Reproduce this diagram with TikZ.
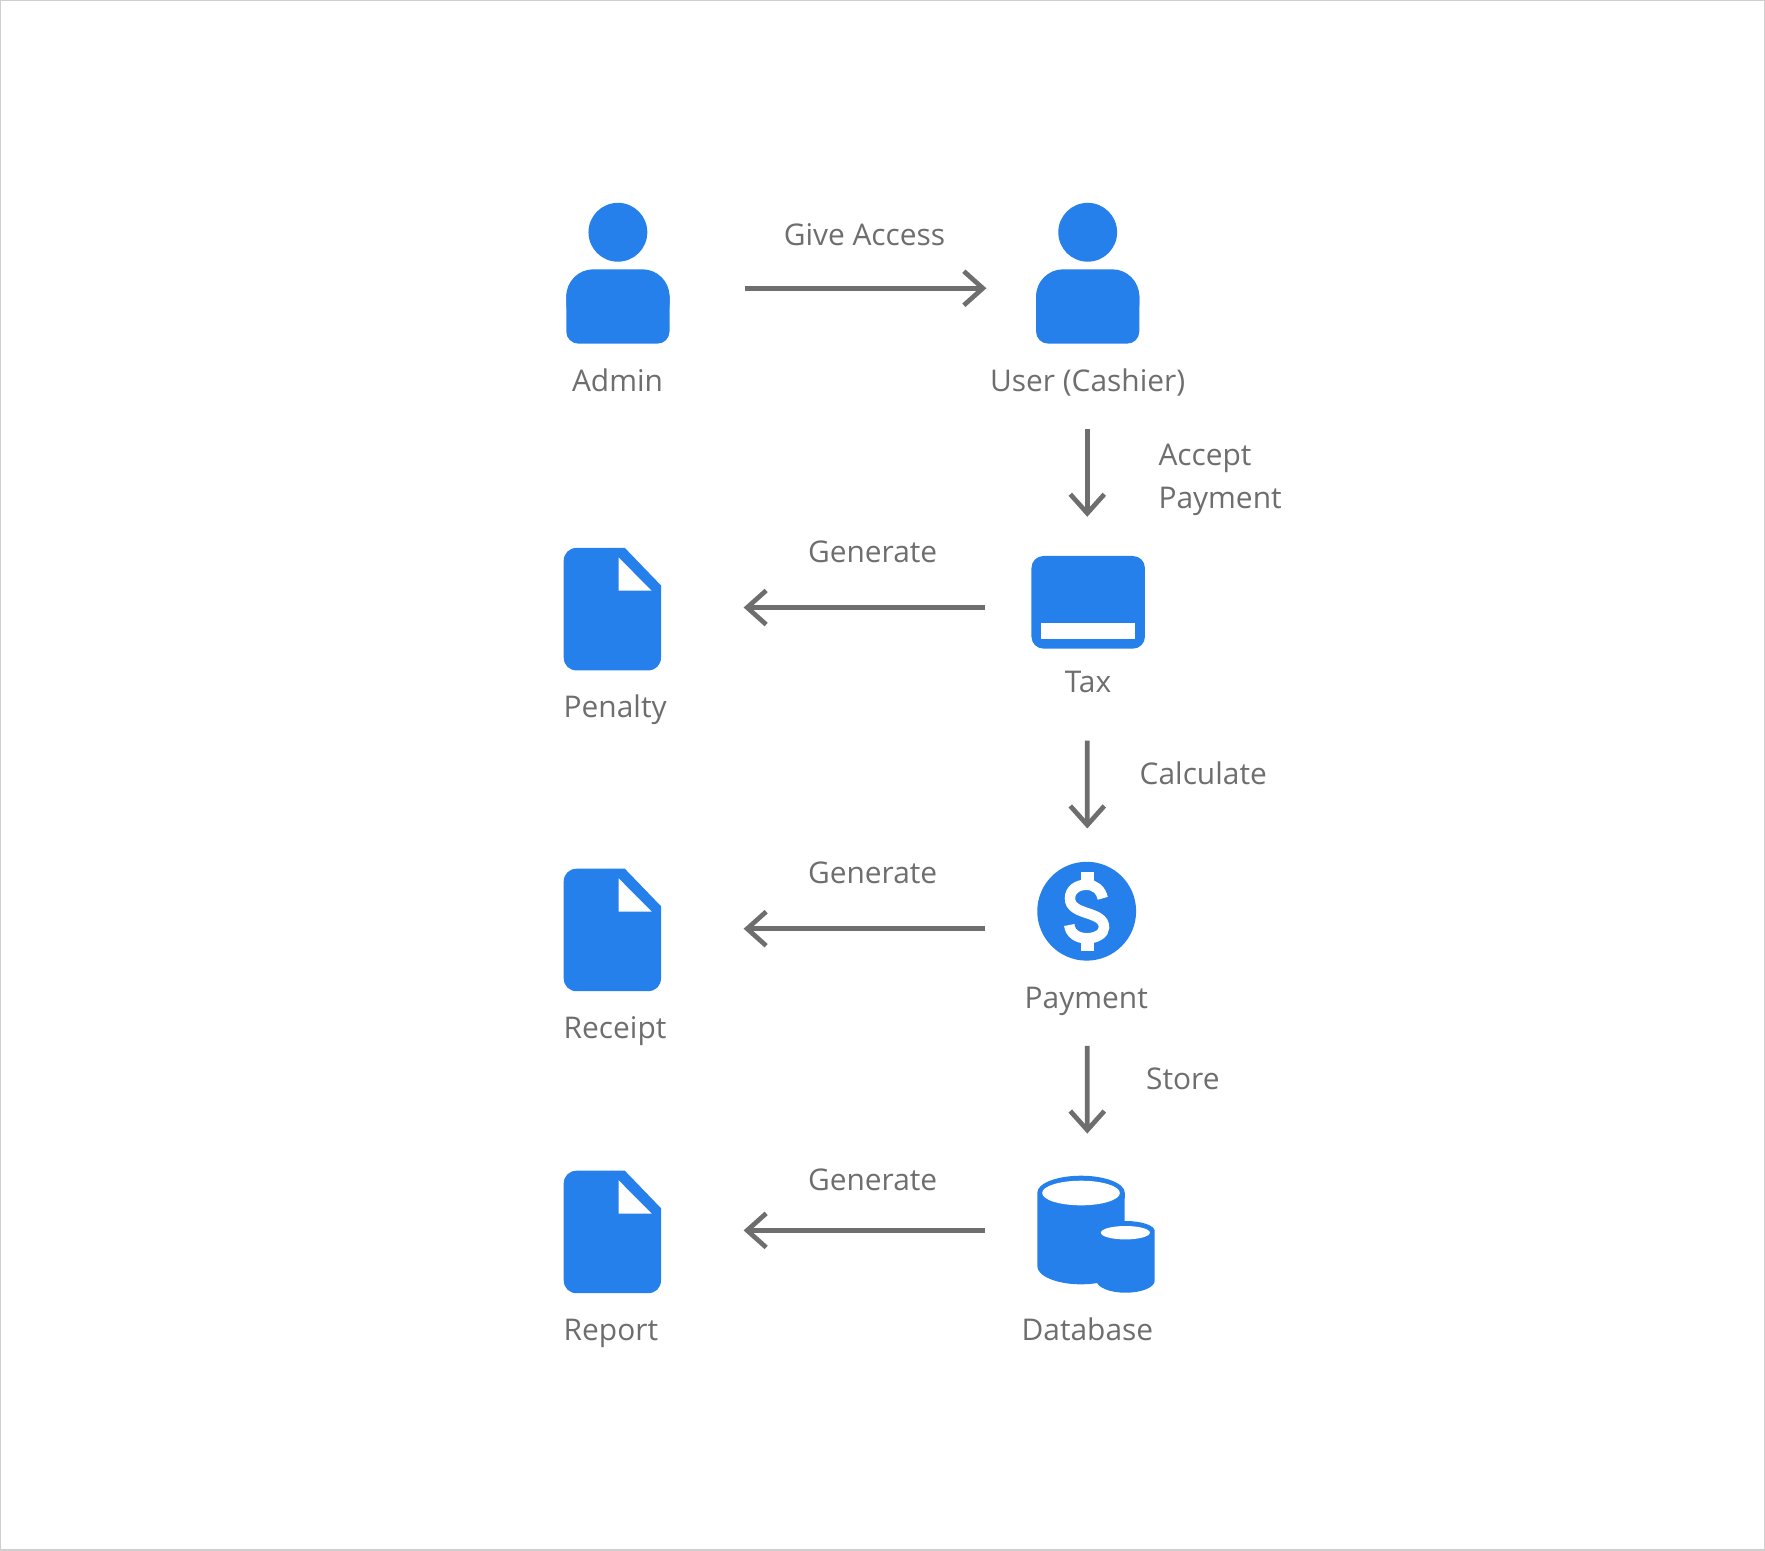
\documentclass[tikz,border=0pt]{standalone}
\usepackage{fontspec}
\setmainfont{Open Sans}
\usepackage{xcolor}
\definecolor{IconBlue}{HTML}{2680EB}
\definecolor{FlowGray}{HTML}{6E6E6E}
\definecolor{FrameGray}{HTML}{CFCFCF}
\usetikzlibrary{arrows.meta}
\tikzset{
  iconbox/.style={inner sep=0pt, outer sep=0pt},
  caption/.style={text=FlowGray, inner sep=0pt, font=\fontsize{8.5}{12.2}\selectfont, anchor=base},
  flow/.style={draw=FlowGray, line width=0.047cm, -{Straight Barb[length=0.19cm,width=0.34cm]}},
  person/.pic={
    \fill[IconBlue] (0,-41) circle (0.294cm);
    \fill[IconBlue, rounded corners=0.27cm] (-51.6,-3.95) rectangle (51.6,58);
    \fill[IconBlue, rounded corners=0.12cm] (-51.6,10) rectangle (51.6,70.35);
  },
  docpage/.pic={
    \fill[IconBlue] (12.45,-61.25) -- (48.65,-23.75) -- (48.65,48.25)
      .. controls (48.65,56) and (43,61.25) .. (35.65,61.25) -- (-35.65,61.25)
      .. controls (-43,61.25) and (-48.65,56) .. (-48.65,48.25) -- (-48.65,-48.25)
      .. controls (-48.65,-56) and (-43,-61.25) .. (-35.65,-61.25) -- cycle;
    \fill[white] (6.25,-51.65) -- (6.25,-18.45) -- (39.25,-18.45) -- cycle;
  }
}

\begin{document}
\begin{tikzpicture}[x=0.01cm, y=-0.01cm]
  \useasboundingbox (0,0) rectangle (1765,1550);
  \draw[FrameGray, line width=0.02cm, fill=white] (0,0) rectangle (1765,1550);
  % icons
  \node[iconbox, minimum width=1.032cm, minimum height=1.407cm] (admin) at (617.9,273.25) {};
  \node[iconbox, minimum width=1.032cm, minimum height=1.407cm] (user) at (1087.7,273.25) {};
  \pic at (admin.center) {person};
  \pic at (user.center) {person};
  \node[iconbox, minimum width=1.134cm, minimum height=0.926cm] (tax) at (1088.2,602.3) {};
  \fill[IconBlue, rounded corners=0.12cm] (tax.south west) rectangle (tax.north east);
  \fill[white] (1041.3,622.9) rectangle (1135,638.6);
  \node[iconbox, minimum size=0.988cm, circle] (payment) at (1086.7,911.2) {};
  \fill[IconBlue] (payment.center) circle (0.494cm);
  \fill[white] (1080.7,872.3) rectangle (1094,881.7);
  \fill[white] (1080.7,941.7) rectangle (1094,951);
  \draw[white, line width=0.105cm] (1102.7,898.3) .. controls (1101,890) and (1095,884.7) .. (1086.7,884.7)
    .. controls (1077,884.7) and (1070,890) .. (1070,898.3)
    .. controls (1070,907) and (1078,910) .. (1086.7,913)
    .. controls (1096,916) and (1104,919) .. (1104,927.3)
    .. controls (1104,934) and (1096,938.3) .. (1086.7,938.3)
    .. controls (1077,938.3) and (1070,933) .. (1069.3,925);
  \node[iconbox, minimum width=1.174cm, minimum height=1.02cm] (database) at (1096,1241) {};
  \fill[IconBlue] (1037.3,1192.7) arc[start angle=180, end angle=360, x radius=0.437cm, y radius=-0.17cm]
    -- (1124.7,1266) arc[start angle=0, end angle=180, x radius=0.437cm, y radius=-0.183cm] -- cycle;
  \fill[white] (1081,1193) ellipse [x radius=0.388cm, y radius=0.123cm];
  \fill[IconBlue] (1096.7,1231) arc[start angle=180, end angle=360, x radius=0.29cm, y radius=-0.1cm]
    -- (1154.7,1280.7) arc[start angle=0, end angle=180, x radius=0.29cm, y radius=-0.12cm] -- cycle;
  \fill[white] (1125.4,1232.7) ellipse [x radius=0.245cm, y radius=0.067cm];
  \foreach \doc/\yy in {penalty/609.15, receipt/929.95, report/1231.95} {
    \node[iconbox, minimum width=0.973cm, minimum height=1.225cm] (\doc) at (612.35,\yy) {};
    \pic at (\doc.center) {docpage};
  }
  % captions
  \node[caption] (adminlabel) at (617.5,391.5) {Admin};
  \node[caption] (userlabel) at (1087.7,391.5) {User (Cashier)};
  \node[caption] (taxlabel) at (1088,692.2) {Tax};
  \node[caption] (paymentlabel) at (1086.3,1008.3) {Payment};
  \node[caption] (databaselabel) at (1087.4,1340.4) {Database};
  \node[caption, anchor=base west] (penaltylabel) at (563,717.6) {Penalty};
  \node[caption, anchor=base west] (receiptlabel) at (563,1038.6) {Receipt};
  \node[caption, anchor=base west] (reportlabel) at (563,1340.4) {Report};
  % connector labels
  \node[caption] (giveaccess) at (864.5,245.8) {Give Access};
  \node[caption, anchor=base west] (acceptlabel) at (1157.8,465.4) {Accept};
  \node[caption, anchor=base west] (paylabel) at (1157.8,508.3) {Payment};
  \node[caption, anchor=base west] (calculate) at (1139,784.6) {Calculate};
  \node[caption, anchor=base west] (store) at (1145.5,1089.7) {Store};
  \foreach \gen/\yy in {genpenalty/562.3, genreceipt/883.7, genreport/1190.7} {
    \node[caption] (\gen) at (872.6,\yy) {Generate};
  }
  % connectors
  \draw[flow] ([shift={(75,15)}]admin.east) -- ([shift={(-49.7,15)}]user.west);
  \draw[flow] ([shift={(-0.4,37.8)}]userlabel.base) -- ([shift={(-0.9,-39.2)}]tax.north);
  \draw[flow] ([shift={(-46.5,5.2)}]tax.west) -- ([shift={(82.6,-1.65)}]penalty.east);
  \draw[flow] ([shift={(-0.7,48.5)}]taxlabel.base) -- ([shift={(0.6,-33.3)}]payment.north);
  \draw[flow] ([shift={(-52.3,17.5)}]payment.west) -- ([shift={(82.6,-1.25)}]receipt.east);
  \draw[flow] ([shift={(1,37.5)}]paymentlabel.base) -- ([shift={(-8.7,-56.4)}]database.north);
  \draw[flow] ([shift={(-52.3,-10.6)}]database.west) -- ([shift={(82.6,-1.55)}]report.east);
\end{tikzpicture}
\end{document}
